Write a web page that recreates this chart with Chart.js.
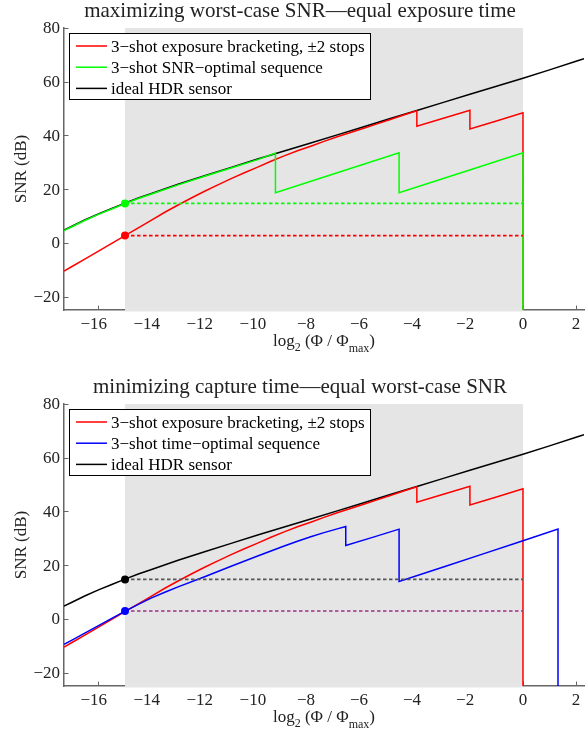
<!DOCTYPE html>
<html><head><meta charset="utf-8">
<script src="https://cdn.jsdelivr.net/npm/chart.js@4.4.1/dist/chart.umd.min.js"></script>
<style>
html,body{margin:0;padding:0;background:#fff;}
#wrap{position:relative;width:588px;height:731px;overflow:hidden;}
canvas{position:absolute;left:0;}
</style></head><body>
<div id="wrap">
<canvas id="c1" width="588" height="365" style="top:0;width:588px;height:365px"></canvas>
<canvas id="c2" width="588" height="366" style="top:365px;width:588px;height:366px"></canvas>
</div>
<script>
// ---------- data ----------
const xTicks = [-16, -14, -12, -10, -8, -6, -4, -2, 0, 2];
const yTicks = [-20, 0, 20, 40, 60, 80];
const xRange = [-17.3, 2.3];
const yRange = [-25, 80];
const shadeRange = [-15, 0];

const titles = ['maximizing worst-case SNR\u2014equal exposure time', 'minimizing capture time\u2014equal worst-case SNR'];
const yTitle = 'SNR (dB)';
const labelBracket = '3\u2212shot exposure bracketing, \u00b12 stops';
const labelSnrOpt = '3\u2212shot SNR\u2212optimal sequence';
const labelTimeOpt = '3\u2212shot time\u2212optimal sequence';
const labelIdeal = 'ideal HDR sensor';

const idealX = [-17.3, -17, -16.5, -16, -15.5, -15, -14.5, -14, -13, -12, -11, -10, -9, -8, -7, -6, -5, -4, -3, -2, -1, 0, 1, 2, 2.3];
const idealY = [4.8, 6.2, 8.6, 10.8, 12.8, 14.8, 16.7, 18.4, 21.8, 25.0, 28.1, 31.2, 34.2, 37.2, 40.2, 43.2, 46.3, 49.3, 52.3, 55.3, 58.3, 61.3, 64.4, 67.6, 68.6];

const bracketX = [-17.3, -17, -16.5, -16, -15.5, -15, -14.5, -14, -13.5, -13, -12.5, -12, -11.5, -11, -10.5, -10, -9.5, -9, -8.5, -8, -7.5, -7, -6.5, -6, -5.5, -5, -4.5, -4, -4, -3, -2, -2, -1, 0, 0];
const bracketY = [-10.5, -8.8, -6.0, -3.1, -0.2, 2.7, 5.6, 8.5, 11.4, 14.1, 16.7, 19.2, 21.6, 23.9, 26.1, 28.2, 30.4, 32.4, 34.3, 36.0, 37.8, 39.5, 41.1, 42.7, 44.3, 45.9, 47.6, 49.2, 43.4, 46.4, 49.4, 42.4, 45.4, 48.4, -25];

const snrOptX = [-17.3, -17, -16.5, -16, -15.5, -15, -14.5, -14, -13, -12, -11, -10, -9.33, -9.33, -7.0, -4.67, -4.67, -2.33, 0, 0];
const snrOptY = [4.6, 6.0, 8.4, 10.6, 12.6, 14.6, 16.5, 18.2, 21.6, 24.8, 27.9, 31.0, 33.4, 18.7, 26.1, 33.5, 18.7, 26.1, 33.5, -25];

const timeOptX = [-17.3, -17, -16.5, -16, -15.5, -15, -14.5, -14, -13.5, -13, -12, -11, -10, -9, -8.5, -8, -7.5, -7, -6.68, -6.68, -5.67, -4.67, -4.67, -3, -1.5, 0, 1.32, 1.32];
const timeOptY = [-9.5, -7.9, -5.2, -2.5, 0.2, 2.9, 5.4, 7.8, 9.9, 11.9, 15.7, 19.6, 23.4, 27.1, 28.9, 30.6, 32.1, 33.5, 34.4, 27.3, 30.35, 33.4, 13.9, 19.3, 24.2, 29.1, 33.4, -25];

const levelX = [-15, 0];
const topSnrLevel = [14.7, 14.7];
const topBracketLevel = [2.7, 2.7];
const botIdealLevel = [14.7, 14.7];
const botBracketLevel = [2.9, 2.9];
const dotX = [-15];
const topDotSnr = [14.7];
const topDotBracket = [2.7];
const botDotIdeal = [14.7];
const botDotTime = [2.9];

// ---------- helpers ----------
const FONT = "'Liberation Serif','Times New Roman',serif";
const pts = (xs, ys) => xs.map((x, i) => ({ x: x, y: ys[i] }));
const RED = '#ff0000', GREEN = '#00ff00', BLUE = '#0000ff', BLACK = '#000000';

function lineDs(label, xs, ys, color, rank, extra) {
  return Object.assign({ label: label, data: pts(xs, ys), borderColor: color, backgroundColor: color,
    borderWidth: 1.5, pointRadius: 0, fill: false, tension: 0, legendRank: rank }, extra || {});
}
function dotDs(xs, ys, color) {
  return { label: 'dot', data: pts(xs, ys), showLine: false, pointRadius: 4, pointHoverRadius: 4,
    pointBackgroundColor: color, pointBorderColor: color, pointBorderWidth: 0, borderColor: color };
}
function dashDs(xs, ys, color) {
  return { label: 'level', data: pts(xs, ys), borderColor: color, borderWidth: 1.6, borderDash: [3.5, 2.5],
    pointRadius: 0, fill: false, tension: 0 };
}

function drawMinusLabel(ctx, v, px, baseline) {
  const digits = String(Math.abs(v));
  const dw = ctx.measureText(digits).width;
  ctx.textAlign = 'left';
  if (v < 0) {
    const mw = ctx.measureText('\u2212').width;
    ctx.fillText('\u2212' + digits, px - dw / 2 - mw, baseline);
  } else {
    ctx.fillText(digits, px - dw / 2, baseline);
  }
}

const decor = {
  id: 'decor',
  beforeDatasetsDraw(chart) {
    const { ctx, chartArea: ca, scales } = chart;
    const x = scales.x, y = scales.y;
    ctx.save();
    ctx.strokeStyle = '#666';
    ctx.lineWidth = 1;
    ctx.beginPath();
    xTicks.forEach(v => {
      const px = Math.round(x.getPixelForValue(v)) + 0.5;
      ctx.moveTo(px, ca.bottom); ctx.lineTo(px, ca.bottom - 4.5);
    });
    yTicks.forEach(v => {
      const py = Math.round(y.getPixelForValue(v)) + 0.5;
      ctx.moveTo(ca.left, py); ctx.lineTo(ca.left + 4.5, py);
    });
    ctx.stroke();
    const x0 = x.getPixelForValue(shadeRange[0]), x1 = x.getPixelForValue(shadeRange[1]);
    ctx.fillStyle = '#e5e5e5';
    ctx.fillRect(x0, ca.top, x1 - x0, ca.bottom - ca.top + 1.5);
    ctx.restore();
  },
  afterDatasetsDraw(chart) {
    const { ctx, chartArea: ca } = chart;
    const entries = chart.data.datasets.filter(d => d.legendRank != null).sort((a, b) => a.legendRank - b.legendRank);
    ctx.save();
    const bx = ca.left + 5, by = Math.round(ca.top + 5);
    ctx.fillStyle = '#fff';
    ctx.fillRect(bx, by, 301, 66);
    ctx.strokeStyle = '#000'; ctx.lineWidth = 1;
    ctx.strokeRect(bx + 0.5, by + 0.5, 301, 66);
    ctx.font = '17px ' + FONT;
    ctx.textBaseline = 'alphabetic';
    ctx.textAlign = 'left';
    entries.forEach((d, i) => {
      const ry = ca.top + 18 + i * 21.2;
      ctx.strokeStyle = d.borderColor; ctx.lineWidth = 1.5;
      ctx.beginPath(); ctx.moveTo(ca.left + 12, ry); ctx.lineTo(ca.left + 43, ry); ctx.stroke();
      ctx.fillStyle = '#000';
      ctx.fillText(d.label, ca.left + 47, ry + 6);
    });
    ctx.restore();
  },
  afterDraw(chart, args, opts) {
    const { ctx, chartArea: ca, scales } = chart;
    const x = scales.x, y = scales.y;
    ctx.save();
    ctx.fillStyle = '#222';
    // title
    ctx.font = '21px ' + FONT;
    ctx.textAlign = 'center';
    ctx.textBaseline = 'alphabetic';
    ctx.fillText(opts.title, 300, ca.top - 11.3);
    // x tick labels
    ctx.font = '17px ' + FONT;
    xTicks.forEach(v => drawMinusLabel(ctx, v, x.getPixelForValue(v), ca.bottom + 19));
    // y tick labels
    ctx.textAlign = 'right';
    ctx.textBaseline = 'middle';
    yTicks.forEach(v => {
      const lab = v < 0 ? '\u2212' + Math.abs(v) : String(v);
      ctx.fillText(lab, ca.left - 4, y.getPixelForValue(v) + 1);
    });
    // y title
    ctx.save();
    ctx.translate(26, (ca.top + ca.bottom) / 2);
    ctx.rotate(-Math.PI / 2);
    ctx.textAlign = 'center';
    ctx.textBaseline = 'alphabetic';
    ctx.fillText(yTitle, 0, 0);
    ctx.restore();
    // x title with subscripts: log2 (Φ / Φmax)
    const parts = [['log', 17, 0], ['2', 12, 5], [' (\u03a6 / \u03a6', 17, 0], ['max', 12, 6], [')', 17, 0]];
    let total = 0;
    parts.forEach(p => { ctx.font = p[1] + 'px ' + FONT; total += ctx.measureText(p[0]).width; });
    let cx = (ca.left + ca.right) / 2 - total / 2;
    const base = ca.bottom + 36;
    ctx.textAlign = 'left';
    ctx.textBaseline = 'alphabetic';
    parts.forEach(p => {
      ctx.font = p[1] + 'px ' + FONT;
      ctx.fillText(p[0], cx, base + p[2]);
      cx += ctx.measureText(p[0]).width;
    });
    ctx.restore();
  }
};

function makeChart(id, title, datasets, padTop, xH) {
  return new Chart(document.getElementById(id), {
    type: 'line',
    data: { datasets: datasets },
    options: {
      responsive: false, maintainAspectRatio: false, animation: false, devicePixelRatio: 1,
      events: [],
      layout: { padding: { top: padTop, right: 3, left: 0, bottom: 0 } },
      plugins: { legend: { display: false }, title: { display: false }, tooltip: { enabled: false }, decor: { title: title } },
      scales: {
        x: { type: 'linear', min: xRange[0], max: xRange[1],
             grid: { display: false, drawTicks: false },
             border: { display: true, color: '#666', width: 1.5 },
             ticks: { display: false },
             afterFit: s => { s.height = xH; } },
        y: { type: 'linear', min: yRange[0], max: yRange[1],
             grid: { display: false, drawTicks: false },
             border: { display: true, color: '#666', width: 1.5 },
             ticks: { display: false },
             afterFit: s => { s.width = 64; } }
      }
    },
    plugins: [decor]
  });
}

makeChart('c1', titles[0], [
  dotDs(dotX, topDotSnr, GREEN),
  dotDs(dotX, topDotBracket, RED),
  dashDs(levelX, topSnrLevel, GREEN),
  dashDs(levelX, topBracketLevel, RED),
  lineDs(labelSnrOpt, snrOptX, snrOptY, GREEN, 1),
  lineDs(labelBracket, bracketX, bracketY, RED, 0),
  lineDs(labelIdeal, idealX, idealY, BLACK, 2)
], 28, 55);

makeChart('c2', titles[1], [
  dotDs(dotX, botDotIdeal, BLACK),
  dotDs(dotX, botDotTime, BLUE),
  dashDs(levelX, botIdealLevel, '#555555'),
  dashDs(levelX, botBracketLevel, '#9b3087'),
  lineDs(labelTimeOpt, timeOptX, timeOptY, BLUE, 1),
  lineDs(labelBracket, bracketX, bracketY, RED, 0),
  lineDs(labelIdeal, idealX, idealY, BLACK, 2)
], 39, 45);
</script>
</body></html>
